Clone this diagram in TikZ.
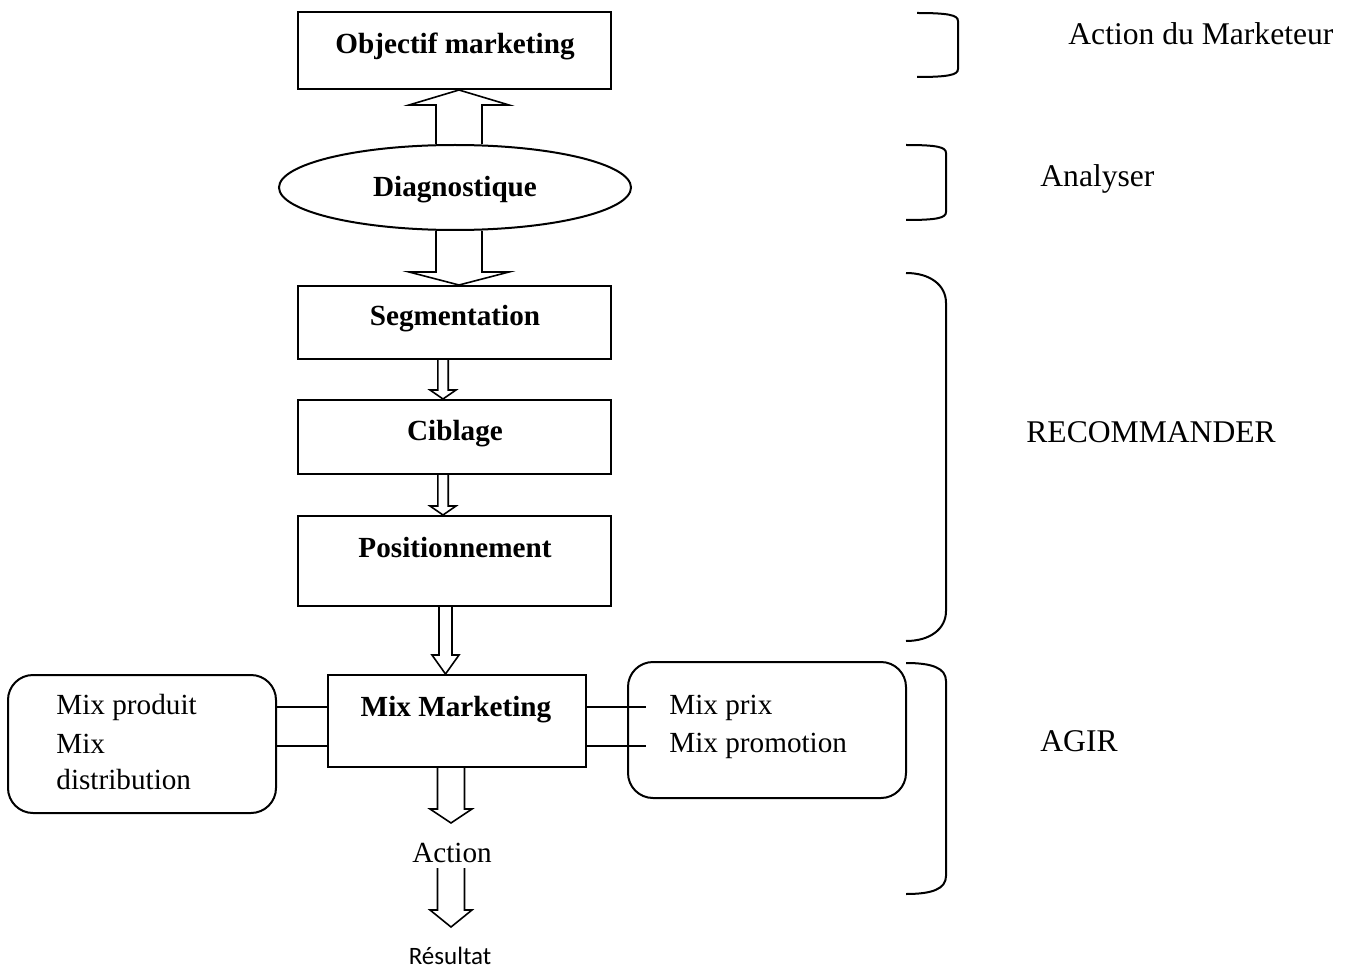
\documentclass[tikz,border=0pt]{standalone}
\usepackage{fontspec}
\setmainfont{Liberation Serif}
\newfontfamily\carlitofont{Carlito}
\usetikzlibrary{shapes.geometric,calc}
\tikzset{
  x=0.5pt, y=-0.5pt,
  box/.style={draw, line width=1pt, inner sep=0pt, minimum width=156.5pt},
  rbox/.style={draw, line width=1pt, inner sep=0pt, rounded corners=12.5pt},
  bold/.style={font=\fontsize{14.6}{17}\selectfont\bfseries, inner sep=0pt, text height=0.66em, text depth=0pt},
  plain/.style={font=\fontsize{14.6}{17}\selectfont, inner sep=0pt, anchor=west, text height=0.66em, text depth=0pt},
  side/.style={font=\fontsize{15.8}{19}\selectfont, inner sep=0pt, anchor=west, text height=0.66em, text depth=0pt},
  blk/.style={line width=0.8pt, line join=miter},
  bracket/.style={line width=1pt},
  link/.style={line width=0.8pt},
}
\newcommand\vblock[5]{\draw[blk] let \p1=(#1), \p2=(#2) in
  (\x2-#3,\y1) -- (\x2-#3,\y2+#5) -- (\x2-#4,\y2+#5) -- (\x2,\y2) --
  (\x2+#4,\y2+#5) -- (\x2+#3,\y2+#5) -- (\x2+#3,\y1);}
\begin{document}
\begin{tikzpicture}
\useasboundingbox (0,0) rectangle (1354,968);

% main boxes
\node[box, minimum height=38.5pt] (obj) at (454.5,50.5) {};
\node[bold] (tobj) at (455,47) {Objectif marketing};
\node[draw, ellipse, line width=1pt, inner sep=0pt, minimum width=176pt, minimum height=42.5pt] (diag) at (455,187.5) {};
\node[bold] (tdiag) at (455,190) {Diagnostique};
\node[box, minimum height=36.5pt] (seg) at (454.5,322.5) {};
\node[bold] (tseg) at (455,319) {Segmentation};
\node[box, minimum height=37pt] (cib) at (454.5,437) {};
\node[bold] (tcib) at (455,434) {Ciblage};
\node[box, minimum height=45pt] (pos) at (454.5,561) {};
\node[bold] (tpos) at (455,551) {Positionnement};
\node[box, minimum width=129pt, minimum height=46pt] (mix) at (457,721) {};
\node[bold] (tmix) at (456,710) {Mix Marketing};

% side rounded boxes
\node[rbox, minimum width=134pt, minimum height=69pt] (lb) at (142,744) {};
\node[plain] (lp1) at (56,708) {Mix produit};
\node[plain] (lp2) at (56,747) {Mix};
\node[plain] (lp3) at (56,783) {distribution};
\node[rbox, minimum width=139pt, minimum height=68pt] (rb) at (767,730) {};
\node[plain] (rp1) at (669,708) {Mix prix};
\node[plain] (rp2) at (669,746) {Mix promotion};

% links
\coordinate (ya) at (0,707);
\coordinate (yb) at (0,746);
\draw[link] (lb.east |- ya) -- (mix.west |- ya);
\draw[link] (lb.east |- yb) -- (mix.west |- yb);
\draw[link] (mix.east |- ya) -- ($(rb.west |- ya)+(19,0)$);
\draw[link] (mix.east |- yb) -- ($(rb.west |- yb)+(19,0)$);

% bottom texts
\node[plain, anchor=center] (act) at (452,856) {Action};
\node[inner sep=0pt, font=\carlitofont\fontsize{12.5}{15}\selectfont, text height=0.66em, text depth=0pt] (res) at (450,958) {Résultat};

% block arrows
\vblock{$(diag.north)+(4,0)$}{$(obj.south)+(4.5,0)$}{11.5pt}{25pt}{-7.5pt}
\vblock{$(diag.south)+(4,0)$}{$(seg.north)+(4.5,0)$}{11.5pt}{25pt}{6.5pt}
\vblock{$(seg.south)+(-11.5,0)$}{$(cib.north)+(-11.5,0)$}{2.6pt}{6.5pt}{4.5pt}
\vblock{$(cib.south)+(-11.5,0)$}{$(pos.north)+(-11.5,0)$}{2.6pt}{6.5pt}{4.5pt}
\vblock{$(pos.south)+(-9,0)$}{$(mix.north)+(-11.5,0)$}{3.25pt}{6.75pt}{9.5pt}
\coordinate (t1) at (451,823);
\vblock{$(mix.south)+(-6,0)$}{t1}{6.75pt}{10.5pt}{7pt}
\coordinate (s2) at (451,868);
\coordinate (t2) at (451,927);
\vblock{s2}{t2}{6.75pt}{10.5pt}{8.5pt}

% right brackets
\draw[bracket] (917,13) .. controls (948,13) and (958,15) .. (958,21) -- (958,69) .. controls (958,75) and (948,77) .. (917,77);
\draw[bracket] (906,145) .. controls (937,145) and (946,147) .. (946,153) -- (946,212) .. controls (946,218) and (937,220) .. (906,220);
\draw[bracket] (906,273) .. controls (930,273) and (946,285) .. (946,303) -- (946,611) .. controls (946,629) and (930,641) .. (906,641);
\draw[bracket] (906,663) .. controls (932,663) and (946,668) .. (946,681) -- (946,876) .. controls (946,889) and (932,894) .. (906,894);

% right labels
\node[side] (l1) at (1068,38) {Action du Marketeur};
\node[side] (l2) at (1040,180) {Analyser};
\node[side] (l3) at (1026,436) {RECOMMANDER};
\node[side] (l4) at (1040,745) {AGIR};
\end{tikzpicture}
\end{document}
